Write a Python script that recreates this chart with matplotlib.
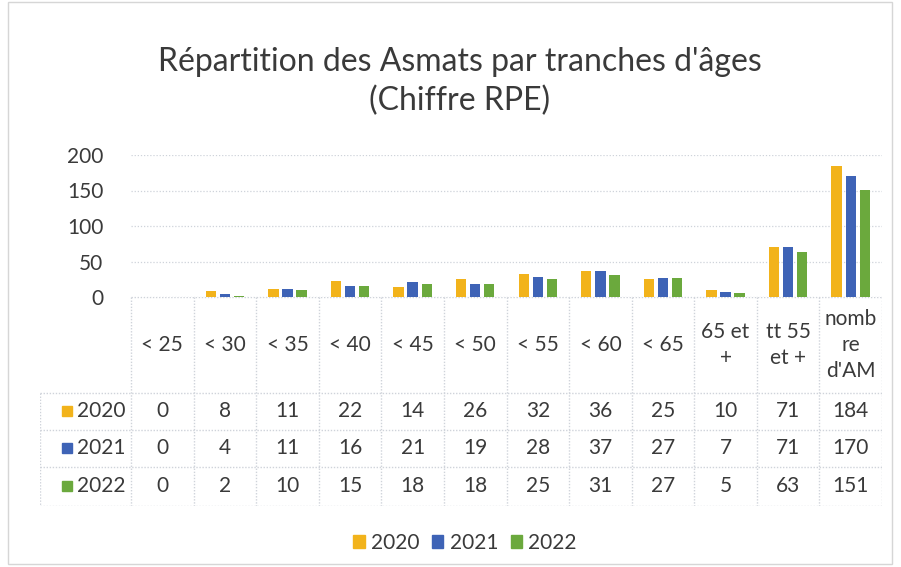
import numpy as np
import matplotlib.pyplot as plt
from matplotlib.patches import Rectangle

plt.rcParams['font.family'] = ['Lato', 'DejaVu Sans']

# ---- data -------------------------------------------------------------------
categories = ["< 25", "< 30", "< 35", "< 40", "< 45", "< 50", "< 55", "< 60",
              "< 65", "65 et\n+", "tt 55\net +", "nomb\nre\nd'AM"]
years = ["2020", "2021", "2022"]
v2020 = [0, 8, 11, 22, 14, 26, 32, 36, 25, 10, 71, 184]
v2021 = [0, 4, 11, 16, 21, 19, 28, 37, 27, 7, 71, 170]
v2022 = [0, 2, 10, 15, 18, 18, 25, 31, 27, 5, 63, 151]
series = [v2020, v2021, v2022]
colors = ["#F2B31B", "#3E63B6", "#6BA93D"]

TXT = "#3a3a3a"
GRID = "#cfd3da"
W, H = 901, 567

fig = plt.figure(figsize=(W / 100, H / 100), dpi=100)

def fx(px):
    return px / W

def fy(py):
    return 1 - py / H

# plot area / table geometry in pixels
x0, x1 = 131, 882
y_top, y_zero = 155, 297
rows = [297, 393, 430, 467, 506]
key_left = 40
n = len(categories)
cw = (x1 - x0) / n

# ---- bar chart --------------------------------------------------------------
ax = fig.add_axes([fx(x0), fy(y_zero), fx(x1) - fx(x0), fy(y_top) - fy(y_zero)])
x = np.arange(n) + 0.5
bw, pitch = 0.165, 0.225
for i, (vals, c) in enumerate(zip(series, colors)):
    ax.bar(x + (i - 1) * pitch, vals, width=bw, color=c, zorder=3)
ax.set_xlim(0, n)
ax.set_ylim(0, 200)
ax.set_yticks([0, 50, 100, 150, 200])
ax.set_xticks([])
ax.tick_params(axis='y', length=0, labelsize=15, labelcolor=TXT, pad=20)
ax.grid(axis='y', color=GRID, linestyle=(0, (1, 1.5)), linewidth=0.9, zorder=0)
for s in ax.spines.values():
    s.set_visible(False)
ax.patch.set_alpha(0)

# ---- data table -------------------------------------------------------------
left_units = (x0 - key_left) / cw
tb = fig.add_axes([fx(key_left), fy(rows[-1]), fx(x1) - fx(key_left),
                   fy(rows[0]) - fy(rows[-1])])
tb.set_xlim(-left_units, n)
tb.set_ylim(rows[-1], rows[0])
tb.axis('off')

ls = dict(color=GRID, linestyle=(0, (1, 1.2)), linewidth=1.0)
tb.plot([0, n], [rows[0], rows[0]], **ls)
for r in rows[1:]:
    tb.plot([-left_units, n], [r, r], **ls)
for k in range(n + 1):
    tb.plot([k, k], [rows[0], rows[-1]], **ls)
tb.plot([-left_units, -left_units], [rows[1], rows[-1]], **ls)

for k, cat in enumerate(categories):
    tb.text(k + 0.5, (rows[0] + rows[1]) / 2, cat, ha='center', va='center',
            fontsize=15, color=TXT, linespacing=1.4)
for j, (vals, c, yr) in enumerate(zip(series, colors, years)):
    yc = (rows[j + 1] + rows[j + 2]) / 2
    for k, v in enumerate(vals):
        tb.text(k + 0.5, yc, str(v), ha='center', va='center', fontsize=15, color=TXT)
    tb.text(-left_units + 37 / cw, yc, yr, ha='left', va='center', fontsize=15, color=TXT)
    tb.add_patch(Rectangle((-left_units + 22 / cw, yc - 5), 10 / cw, 10,
                           color=c, clip_on=False))

# ---- legend -----------------------------------------------------------------
handles = [Rectangle((0, 0), 1, 1, color=c) for c in colors]
fig.legend(handles, years, loc='center', bbox_to_anchor=(fx(465), fy(543)),
           ncol=3, frameon=False, fontsize=15, handlelength=0.55, handleheight=0.6,
           handletextpad=0.3, columnspacing=0.6, labelcolor=TXT)

# ---- title ------------------------------------------------------------------
fig.text(fx(460), fy(62), "Répartition des Asmats par tranches d'âges",
         ha='center', va='center', fontsize=23, color=TXT)
fig.text(fx(460), fy(101), "(Chiffre RPE)", ha='center', va='center',
         fontsize=23, color=TXT)

# chart border
fig.patches.append(Rectangle((fx(8), fy(564)), fx(892) - fx(8), fy(2) - fy(564),
                             transform=fig.transFigure, fill=False,
                             edgecolor="#d6d6d6", linewidth=1))

fig.savefig("out.png", dpi=100)
